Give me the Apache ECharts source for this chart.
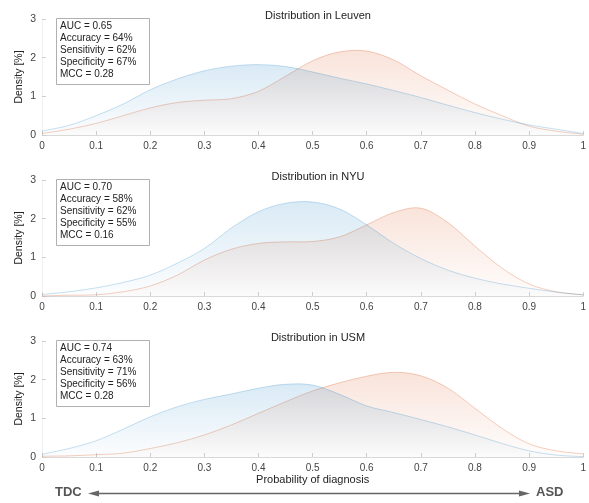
<!DOCTYPE html>
<html>
<head>
<meta charset="utf-8">
<script src="https://cdn.jsdelivr.net/npm/echarts@6/dist/echarts.min.js"></script>
<style>html,body{margin:0;padding:0;background:#fff}#c{width:589px;height:503px}</style>
</head>
<body>
<div id="c"></div>
<script>
const xs = [0,0.05,0.1,0.15,0.2,0.25,0.3,0.35,0.4,0.45,0.5,0.55,0.6,0.65,0.7,0.75,0.8,0.85,0.9,0.95,1];
const xTicks = ['0','0.1','0.2','0.3','0.4','0.5','0.6','0.7','0.8','0.9','1'];
const sites = ['Leuven','NYU','USM'];
const titles = ['Distribution in Leuven','Distribution in NYU','Distribution in USM'];
const leuvenTDC = [0.10,0.25,0.50,0.80,1.17,1.45,1.66,1.78,1.82,1.77,1.63,1.47,1.32,1.15,0.97,0.77,0.58,0.41,0.26,0.15,0.04];
const leuvenASD = [0.04,0.15,0.30,0.50,0.70,0.84,0.90,0.94,1.13,1.52,1.92,2.15,2.17,1.94,1.53,1.16,0.80,0.50,0.23,0.10,0.02];
const nyuTDC = [0.04,0.11,0.21,0.35,0.54,0.85,1.23,1.76,2.18,2.40,2.43,2.25,1.84,1.36,0.97,0.67,0.46,0.31,0.20,0.10,0.03];
const nyuASD = [0.00,0.02,0.03,0.11,0.26,0.54,0.93,1.21,1.36,1.40,1.41,1.53,1.84,2.16,2.27,1.90,1.29,0.72,0.31,0.11,0.03];
const usmTDC = [0.07,0.22,0.42,0.72,1.04,1.30,1.49,1.63,1.78,1.88,1.86,1.62,1.32,1.15,0.97,0.78,0.57,0.35,0.16,0.05,0.01];
const usmASD = [0.02,0.03,0.06,0.10,0.22,0.37,0.57,0.83,1.13,1.43,1.71,1.92,2.09,2.19,2.10,1.78,1.26,0.74,0.34,0.16,0.08];
const tdcSeries = [leuvenTDC, nyuTDC, usmTDC];
const asdSeries = [leuvenASD, nyuASD, usmASD];
const statsLeuven = ['AUC = 0.65','Accuracy = 64%','Sensitivity = 62%','Specificity = 67%','MCC = 0.28'];
const statsNYU = ['AUC = 0.70','Accuracy = 58%','Sensitivity = 62%','Specificity = 55%','MCC = 0.16'];
const statsUSM = ['AUC = 0.74','Accuracy = 63%','Sensitivity = 71%','Specificity = 56%','MCC = 0.28'];
const stats = [statsLeuven, statsNYU, statsUSM];
const yTicks = [0,1,2,3];

const FONT = '"Liberation Sans", Arial, sans-serif';
const tops = [19, 180, 341];
const H = 116;
const chart = echarts.init(document.getElementById('c'));

const grids = [], xAxes = [], yAxes = [], series = [], titleArr = [], graphics = [];
function grad(r,g,b,a1,a2){
  return new echarts.graphic.LinearGradient(0,0,0,1,[
    {offset:0,color:`rgba(${r},${g},${b},${a1})`},
    {offset:1,color:`rgba(${r},${g},${b},${a2})`}]);
}
// smooth density curve drawn through the axis scales (Catmull-Rom as cubic Bezier)
function densitySeries(i, vals, rgb, lineAlpha, topAlpha, z){
  const data = xs.map((x,k)=>[x, vals[k]]);
  return {
    type:'custom', xAxisIndex:i, yAxisIndex:i, z:z,
    data:data, encode:{x:0, y:1}, silent:true,
    renderItem:function(params, api){
      if (params.dataIndex !== 0) return null;
      const P = data.map(d=>api.coord(d));
      const base = api.coord([0, 0])[1];
      const n = P.length;
      let curve = '';
      for (let k=0;k<n-1;k++){
        const p0 = P[Math.max(k-1,0)], p1 = P[k], p2 = P[k+1], p3 = P[Math.min(k+2,n-1)];
        const c1x = p1[0] + (p2[0]-p0[0])/6, c1y = p1[1] + (p2[1]-p0[1])/6;
        const c2x = p2[0] - (p3[0]-p1[0])/6, c2y = p2[1] - (p3[1]-p1[1])/6;
        curve += ` C ${c1x} ${c1y} ${c2x} ${c2y} ${p2[0]} ${p2[1]}`;
      }
      const areaPath = `M ${P[0][0]} ${base} L ${P[0][0]} ${P[0][1]}` + curve + ` L ${P[n-1][0]} ${base} Z`;
      const linePath = `M ${P[0][0]} ${P[0][1]}` + curve;
      const [r,g,b] = rgb;
      return {
        type:'group',
        children:[
          {type:'path', shape:{pathData:areaPath},
           style:{fill:grad(r,g,b,topAlpha,0.01), stroke:null}},
          {type:'path', shape:{pathData:linePath},
           style:{fill:null, stroke:`rgba(${r},${g},${b},${lineAlpha})`, lineWidth:1}}
        ]
      };
    }
  };
}
for (let i=0;i<3;i++){
  grids.push({left:42, right:5, top:tops[i], height:H, containLabel:false});
  xAxes.push({
    type:'value', gridIndex:i, min:0, max:1, interval:0.1,
    axisLine:{show:true, lineStyle:{color:'#d9d9d9', width:1}},
    axisTick:{show:true, inside:true, length:4, lineStyle:{color:'#d0d0d0'}},
    splitLine:{show:false},
    axisLabel:{color:'#444', fontSize:10, fontFamily:FONT, margin:6,
      formatter:(v)=>xTicks[Math.round(v*10)]},
    name: i===2 ? 'Probability of diagnosis' : '',
    nameLocation:'middle', nameGap:17,
    nameTextStyle:{color:'#222', fontSize:11, fontFamily:FONT}
  });
  yAxes.push({
    type:'value', gridIndex:i, min:yTicks[0], max:yTicks[yTicks.length-1], interval:1,
    axisLine:{show:true, lineStyle:{color:'#f0f0f0', width:1}},
    axisTick:{show:true, inside:true, length:4, lineStyle:{color:'#d0d0d0'}},
    splitLine:{show:false},
    axisLabel:{color:'#444', fontSize:10.5, fontFamily:FONT, margin:6},
    name:'Density [%]', nameLocation:'middle', nameGap:17, nameMoveOverlap:false,
    nameTextStyle:{color:'#222', fontSize:10.5, fontFamily:FONT}
  });
  series.push(densitySeries(i, asdSeries[i], [217,83,25], 0.28, 0.16, 2));
  series.push(densitySeries(i, tdcSeries[i], [0,114,189], 0.22, 0.15, 3));
  titleArr.push({
    text:titles[i], left:313, top:tops[i]-14, textAlign:'center',
    textStyle:{color:'#222', fontSize:11, fontWeight:'normal', fontFamily:FONT}
  });
  graphics.push({
    type:'rect', left:56, top:tops[i]-1, z:10,
    shape:{width:93, height:66},
    style:{fill:'#fff', stroke:'#b0b0b0', lineWidth:1}
  });
  graphics.push({
    type:'text', left:60, top:tops[i]+1, z:11,
    style:{text:stats[i].join('\n'), fill:'#222', fontSize:10, fontFamily:FONT, lineHeight:12}
  });
}
// direction arrow
graphics.push({type:'text', left:55, top:486, style:{text:'TDC', fill:'#555', fontSize:13, fontWeight:'bold', fontFamily:FONT}});
graphics.push({type:'text', left:536, top:486, style:{text:'ASD', fill:'#555', fontSize:13, fontWeight:'bold', fontFamily:FONT}});
graphics.push({type:'line', shape:{x1:94, y1:493.5, x2:524, y2:493.5}, style:{stroke:'#666', lineWidth:1.5}});
graphics.push({type:'polygon', shape:{points:[[88,493.5],[99,490.5],[99,496.5]]}, style:{fill:'#666'}});
graphics.push({type:'polygon', shape:{points:[[530,493.5],[519,490.5],[519,496.5]]}, style:{fill:'#666'}});

chart.setOption({
  animation:false,
  backgroundColor:'#fff',
  title:titleArr,
  grid:grids, xAxis:xAxes, yAxis:yAxes, series:series,
  graphic:graphics
});
</script>
</body>
</html>
